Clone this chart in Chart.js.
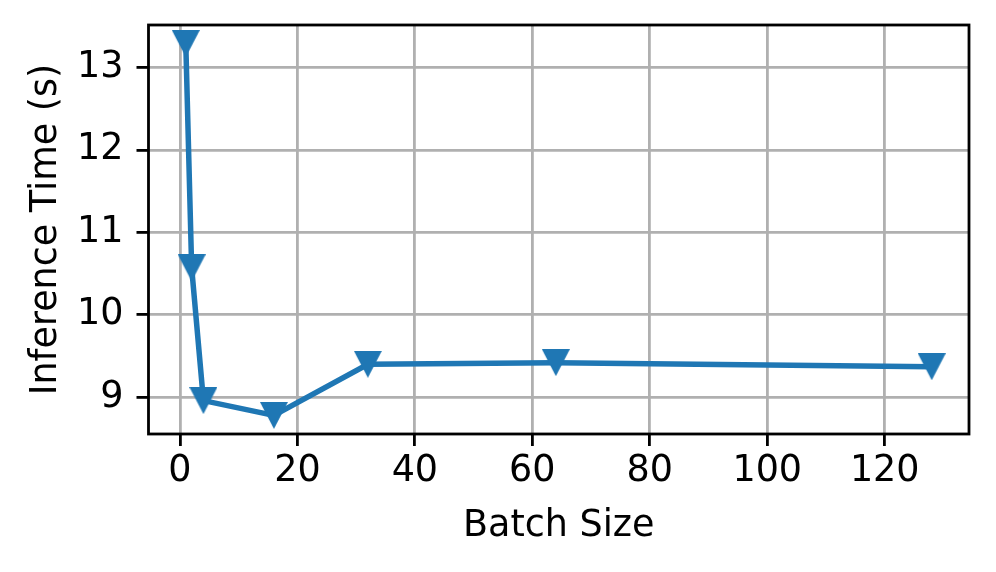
<!DOCTYPE html>
<html>
<head>
<meta charset="utf-8">
<script src="https://cdn.jsdelivr.net/npm/chart.js@4"></script>
<style>
  html, body { margin: 0; padding: 0; background: #fff; }
  #wrap { width: 996px; height: 572px; }
</style>
</head>
<body>
<div id="wrap"><canvas id="inference-chart" width="996" height="572"></canvas></div>
<script>
const batchSizes = [1, 2, 4, 16, 32, 64, 128];
const inferenceTimes = [13.29, 10.57, 8.96, 8.78, 9.40, 9.42, 9.37];
const xTickValues = [0, 20, 40, 60, 80, 100, 120];
const yTickValues = [9, 10, 11, 12, 13];

const blue = '#1f77b4';

// matplotlib style 5% margins around the data
function padRange(values) {
    const lo = Math.min(...values);
    const hi = Math.max(...values);
    const m = (hi - lo) * 0.05;
    return { min: lo - m, max: hi + m };
}
const xRange = padRange(batchSizes);
const yRange = padRange(inferenceTimes);

// downward triangle marker, like matplotlib 'v'
function triangleDown(w, h) {
    const c = document.createElement('canvas');
    c.width = w;
    c.height = h;
    const g = c.getContext('2d');
    g.fillStyle = blue;
    g.beginPath();
    g.moveTo(0, 0);
    g.lineTo(w, 0);
    g.lineTo(w / 2, h);
    g.closePath();
    g.fill();
    return c;
}

const frame = {
    id: 'frame',
    afterDatasetsDraw(chart) {
        const a = chart.chartArea;
        const ctx = chart.ctx;
        ctx.save();
        ctx.strokeStyle = '#000';
        ctx.lineWidth = 2.8;
        ctx.strokeRect(a.left, a.top, a.right - a.left, a.bottom - a.top);
        ctx.restore();
    }
};

const font = { family: 'DejaVu Sans', size: 36.5 };

new Chart(document.getElementById('inference-chart'), {
    type: 'line',
    data: {
        datasets: [{
            data: batchSizes.map((b, i) => ({ x: b, y: inferenceTimes[i] })),
            borderColor: blue,
            backgroundColor: blue,
            borderWidth: 5.5,
            tension: 0,
            pointStyle: triangleDown(28, 27),
            pointRadius: 14,
            pointHoverRadius: 14
        }]
    },
    options: {
        responsive: false,
        animation: false,
        events: [],
        plugins: {
            legend: { display: false },
            tooltip: { enabled: false }
        },
        layout: { autoPadding: false, padding: { left: 0, right: 27, top: 25, bottom: 0 } },
        scales: {
            x: {
                type: 'linear',
                min: xRange.min,
                max: xRange.max,
                afterBuildTicks: s => { s.ticks = xTickValues.map(v => ({ value: v })); },
                afterFit: s => { s.height = 138; s.paddingLeft = 0; s.paddingRight = 0; },
                grid: { color: '#b0b0b0', lineWidth: 2.8, tickLength: 12, tickColor: '#000', tickWidth: 2.8 },
                border: { display: false },
                ticks: { color: '#000', font: font, padding: 4, maxRotation: 0 },
                title: { display: true, text: 'Batch Size', color: '#000', font: font, padding: { top: 0, bottom: 24 } }
            },
            y: {
                min: yRange.min,
                max: yRange.max,
                afterBuildTicks: s => { s.ticks = yTickValues.map(v => ({ value: v })); },
                afterFit: s => { s.width = 148.5; s.paddingTop = 0; s.paddingBottom = 0; },
                grid: { color: '#b0b0b0', lineWidth: 2.8, tickLength: 12, tickColor: '#000', tickWidth: 2.8 },
                border: { display: false },
                ticks: { color: '#000', font: font, padding: 13 },
                title: { display: true, text: 'Inference Time (s)', color: '#000', font: font, padding: { top: 25, bottom: 0 } }
            }
        }
    },
    plugins: [frame]
});
</script>
</body>
</html>
